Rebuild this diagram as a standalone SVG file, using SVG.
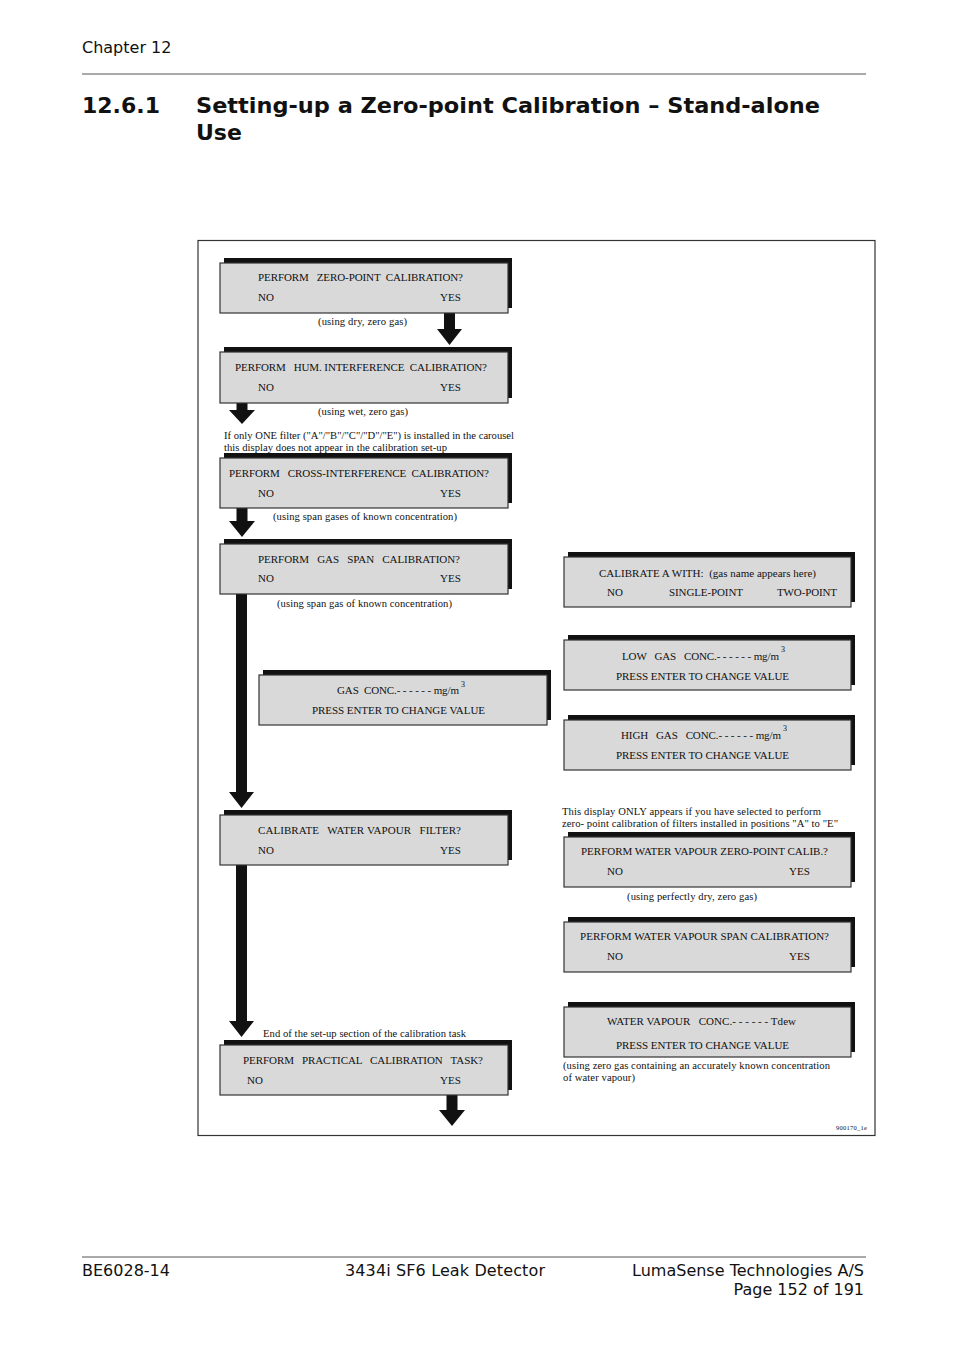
<svg xmlns="http://www.w3.org/2000/svg" width="954" height="1350" viewBox="0 0 954 1350">
<style>
.hdr{font-family:"DejaVu Sans",Verdana,sans-serif;font-size:16px;fill:#111}
.ttl{font-family:"DejaVu Sans",Verdana,sans-serif;font-size:22px;font-weight:bold;fill:#111}
.bt{font-family:"Liberation Serif","Times New Roman",serif;font-size:11px;fill:#111;white-space:pre}
.nt{font-family:"Liberation Serif","Times New Roman",serif;font-size:10.6px;fill:#111;white-space:pre}
.sup{font-family:"Liberation Serif","Times New Roman",serif;font-size:8px;fill:#111}
.box{fill:#d9d9d9;stroke:#333;stroke-width:1.2}
.sh{fill:#111}
.arr{fill:#111}
.rule{stroke:#555;stroke-width:1}
</style>
<rect width="954" height="1350" fill="#fff"/>
<g id="header">
<text class="hdr" x="82" y="53">Chapter 12</text>
<line class="rule" x1="82" y1="74" x2="866" y2="74"/>
<text class="ttl" x="82" y="113">12.6.1</text>
<text class="ttl" x="196" y="113" textLength="624" lengthAdjust="spacingAndGlyphs">Setting-up a Zero-point Calibration – Stand-alone</text>
<text class="ttl" x="196" y="140">Use</text>
</g>
<g id="frame"><rect x="198" y="240.5" width="677" height="895" fill="none" stroke="#333" stroke-width="1.2"/></g>

<g id="connectors">
<polygon class="arr" points="444,313 455,313 455,329 462,329 449.5,345 437,329 444,329"/>
<polygon class="arr" points="236.5,403 247.5,403 247.5,410 255,410 242,424 229,410 236.5,410"/>
<polygon class="arr" points="236.5,508 247.5,508 247.5,521 255,521 242,537 229,521 236.5,521"/>
<polygon class="arr" points="236,594 247,594 247,792 254,792 241.5,808 229,792 236,792"/>
<polygon class="arr" points="236,865 247,865 247,1021 254,1021 241.5,1037 229,1021 236,1021"/>
<polygon class="arr" points="446.5,1095 457.5,1095 457.5,1110 465,1110 452,1126 439,1110 446.5,1110"/>
</g>

<g id="n1">
<rect class="sh" x="224" y="258" width="288" height="50"/>
<rect class="box" x="220" y="263" width="288" height="50"/>
<text class="bt" x="258" y="281" textLength="205">PERFORM   ZERO-POINT  CALIBRATION?</text>
<text class="bt" x="258" y="301">NO</text>
<text class="bt" x="440" y="301">YES</text>
</g>
<text class="nt" x="318" y="325" textLength="89">(using dry, zero gas)</text>

<g id="n2">
<rect class="sh" x="224" y="347" width="288" height="51"/>
<rect class="box" x="220" y="352" width="288" height="51"/>
<text class="bt" x="235" y="371" textLength="252">PERFORM   HUM. INTERFERENCE  CALIBRATION?</text>
<text class="bt" x="258" y="391">NO</text>
<text class="bt" x="440" y="391">YES</text>
</g>
<text class="nt" x="318" y="415" textLength="90">(using wet, zero gas)</text>
<text class="nt" x="224" y="439" textLength="290">If only ONE filter ("A"/"B"/"C"/"D"/"E") is installed in the carousel</text>
<text class="nt" x="224" y="451" textLength="223">this display does not appear in the calibration set-up</text>

<g id="n3">
<rect class="sh" x="224" y="453" width="288" height="50"/>
<rect class="box" x="220" y="458" width="288" height="50"/>
<text class="bt" x="229" y="477" textLength="260">PERFORM   CROSS-INTERFERENCE  CALIBRATION?</text>
<text class="bt" x="258" y="497">NO</text>
<text class="bt" x="440" y="497">YES</text>
</g>
<text class="nt" x="273" y="520" textLength="184">(using span gases of known concentration)</text>

<g id="n4">
<rect class="sh" x="224" y="539" width="288" height="50"/>
<rect class="box" x="220" y="544" width="288" height="50"/>
<text class="bt" x="258" y="563" textLength="202">PERFORM   GAS   SPAN   CALIBRATION?</text>
<text class="bt" x="258" y="582">NO</text>
<text class="bt" x="440" y="582">YES</text>
</g>
<text class="nt" x="277" y="607" textLength="175">(using span gas of known concentration)</text>

<g id="n5">
<rect class="sh" x="263" y="670" width="288" height="50"/>
<rect class="box" x="259" y="675" width="288" height="50"/>
<text class="bt" x="337" y="694" textLength="122">GAS  CONC.- - - - - - mg/m</text>
<text class="sup" x="461" y="687">3</text>
<text class="bt" x="312" y="714" textLength="173">PRESS ENTER TO CHANGE VALUE</text>
</g>

<g id="n6">
<rect class="sh" x="224" y="810" width="288" height="50"/>
<rect class="box" x="220" y="815" width="288" height="50"/>
<text class="bt" x="258" y="834" textLength="203">CALIBRATE   WATER VAPOUR   FILTER?</text>
<text class="bt" x="258" y="854">NO</text>
<text class="bt" x="440" y="854">YES</text>
</g>
<text class="nt" x="263" y="1037" textLength="203">End of the set-up section of the calibration task</text>

<g id="n7">
<rect class="sh" x="224" y="1040" width="288" height="50"/>
<rect class="box" x="220" y="1045" width="288" height="50"/>
<text class="bt" x="243" y="1064" textLength="240">PERFORM   PRACTICAL   CALIBRATION   TASK?</text>
<text class="bt" x="247" y="1084">NO</text>
<text class="bt" x="440" y="1084">YES</text>
</g>

<g id="n8">
<rect class="sh" x="568" y="552" width="287" height="50"/>
<rect class="box" x="564" y="557" width="287" height="50"/>
<text class="bt" x="599" y="577" textLength="217">CALIBRATE A WITH:  (gas name appears here)</text>
<text class="bt" x="607" y="596">NO</text>
<text class="bt" x="669" y="596" textLength="74">SINGLE-POINT</text>
<text class="bt" x="777" y="596" textLength="60">TWO-POINT</text>
</g>

<g id="n9">
<rect class="sh" x="568" y="635" width="287" height="50"/>
<rect class="box" x="564" y="640" width="287" height="50"/>
<text class="bt" x="622" y="660" textLength="157">LOW   GAS   CONC.- - - - - - mg/m</text>
<text class="sup" x="781" y="652">3</text>
<text class="bt" x="616" y="680" textLength="173">PRESS ENTER TO CHANGE VALUE</text>
</g>

<g id="n10">
<rect class="sh" x="568" y="715" width="287" height="50"/>
<rect class="box" x="564" y="720" width="287" height="50"/>
<text class="bt" x="621" y="739" textLength="160">HIGH   GAS   CONC.- - - - - - mg/m</text>
<text class="sup" x="783" y="731">3</text>
<text class="bt" x="616" y="759" textLength="173">PRESS ENTER TO CHANGE VALUE</text>
</g>

<text class="nt" x="562" y="815" textLength="259">This display ONLY appears if you have selected to perform</text>
<text class="nt" x="562" y="827" textLength="276">zero- point calibration of filters installed in positions "A" to "E"</text>

<g id="n11">
<rect class="sh" x="568" y="832" width="287" height="50"/>
<rect class="box" x="564" y="837" width="287" height="50"/>
<text class="bt" x="581" y="855" textLength="247">PERFORM WATER VAPOUR ZERO-POINT CALIB.?</text>
<text class="bt" x="607" y="875">NO</text>
<text class="bt" x="789" y="875">YES</text>
</g>
<text class="nt" x="627" y="900" textLength="130">(using perfectly dry, zero gas)</text>

<g id="n12">
<rect class="sh" x="568" y="917" width="287" height="50"/>
<rect class="box" x="564" y="922" width="287" height="50"/>
<text class="bt" x="580" y="940" textLength="249">PERFORM WATER VAPOUR SPAN CALIBRATION?</text>
<text class="bt" x="607" y="960">NO</text>
<text class="bt" x="789" y="960">YES</text>
</g>

<g id="n13">
<rect class="sh" x="568" y="1002" width="287" height="50"/>
<rect class="box" x="564" y="1007" width="287" height="50"/>
<text class="bt" x="607" y="1025" textLength="189">WATER VAPOUR   CONC.- - - - - - Tdew</text>
<text class="bt" x="616" y="1049" textLength="173">PRESS ENTER TO CHANGE VALUE</text>
</g>
<text class="nt" x="563" y="1069" textLength="267">(using zero gas containing an accurately known concentration</text>
<text class="nt" x="563" y="1081" textLength="72">of water vapour)</text>
<text class="nt" x="836" y="1130" style="font-size:6.5px" textLength="31">900170_1e</text>

<g id="footer">
<line class="rule" x1="82" y1="1257" x2="866" y2="1257"/>
<text class="hdr" x="82" y="1276">BE6028-14</text>
<text class="hdr" x="345" y="1276" textLength="200">3434i SF6 Leak Detector</text>
<text class="hdr" x="864" y="1276" text-anchor="end">LumaSense Technologies A/S</text>
<text class="hdr" x="864" y="1295" text-anchor="end">Page 152 of 191</text>
</g>
</svg>
